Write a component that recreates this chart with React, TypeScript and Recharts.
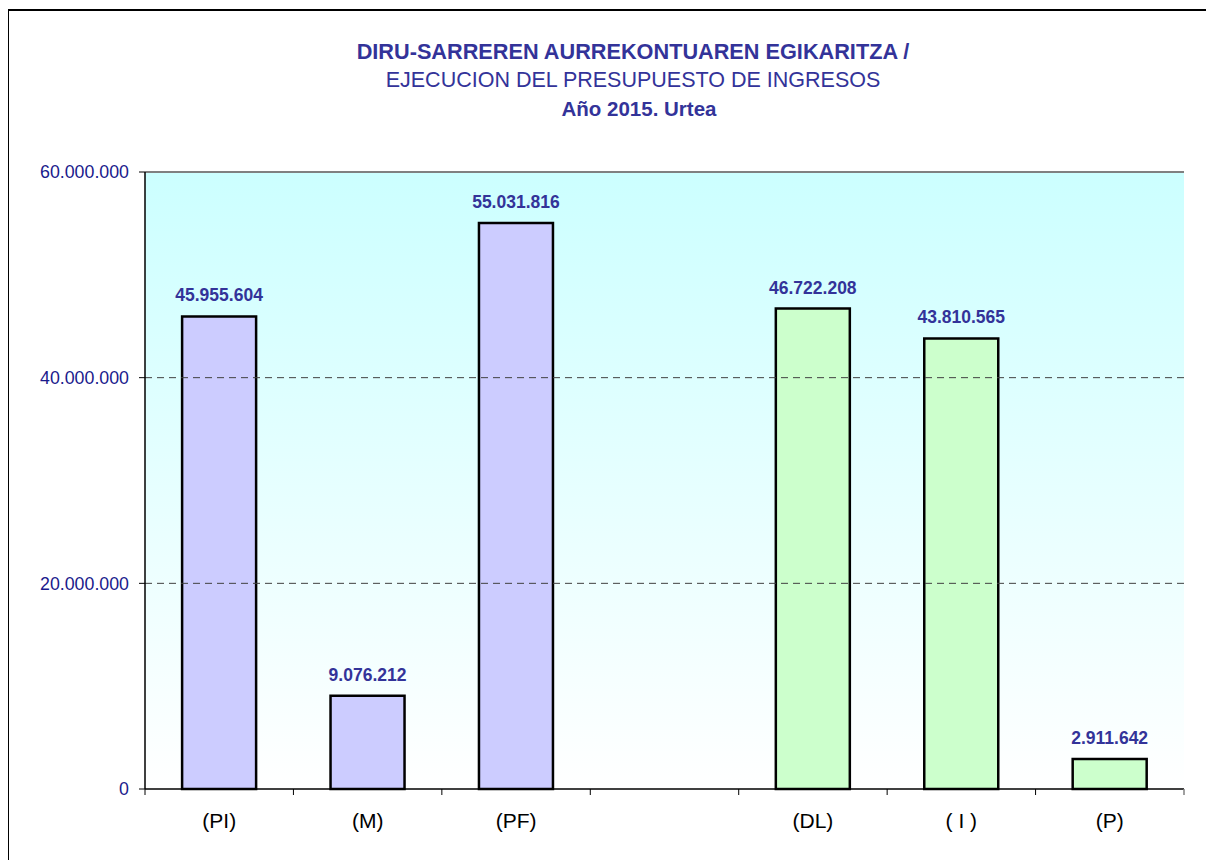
import {
  Bar,
  BarChart,
  CartesianGrid,
  Cell,
  LabelList,
  ReferenceLine,
  XAxis,
  YAxis,
} from 'recharts'

const categories = ['(PI)', '(M)', '(PF)', '', '(DL)', '( I )', '(P)']
const amounts: (number | null)[] = [45955604, 9076212, 55031816, null, 46722208, 43810565, 2911642]
const barColors = ['#CCCCFF', '#CCCCFF', '#CCCCFF', '#CCCCFF', '#CCFFCC', '#CCFFCC', '#CCFFCC']
const yTicks = [0, 20000000, 40000000, 60000000]
const gridValues = [20000000, 40000000]
const titleLines = [
  'DIRU-SARREREN AURREKONTUAREN EGIKARITZA /',
  'EJECUCION DEL PRESUPUESTO DE INGRESOS',
  'Año 2015. Urtea',
]

const FONT = '"Liberation Sans", Arial, sans-serif'
const BLUE = '#333399'

const fmt = (n: unknown) =>
  n == null || n === '' ? '' : String(n).replace(/\B(?=(\d{3})+(?!\d))/g, '.')

const rows = categories.map((name, i) => ({ name, value: amounts[i] }))

// Excel-style category axis: tick marks sit on the band boundaries, labels in the middle
function BandTick(props: any) {
  const { x, y, payload, index, visibleTicksCount } = props
  const half = payload?.offset ?? 74.2
  const last = index === (visibleTicksCount ?? categories.length) - 1
  return (
    <g>
      <line x1={x - half} y1={y} x2={x - half} y2={y + 6} stroke="#000" strokeWidth={1} />
      {last && <line x1={x + half} y1={y} x2={x + half} y2={y + 6} stroke="#808080" strokeWidth={1.5} />}
      <text x={x} y={y + 39} textAnchor="middle" fontFamily={FONT} fontSize={21} fill="#000">
        {payload.value}
      </text>
    </g>
  )
}

export default function App() {
  return (
    <div style={{ position: 'relative', width: 1206, height: 852, background: '#fff' }}>
      <div
        style={{
          position: 'absolute',
          left: -1,
          top: 1,
          width: 1206,
          height: 851,
          borderLeft: '2px solid #000',
          borderTop: '2px solid #000',
          boxSizing: 'border-box',
        }}
      />
      <svg
        width={1206}
        height={130}
        style={{ position: 'absolute', left: 0, top: 0, pointerEvents: 'none' }}
      >
        <text x={625} y={50.5} textAnchor="middle" fontFamily={FONT} fontSize={21.7} fontWeight="bold" fill={BLUE}>
          {titleLines[0]}
        </text>
        <text x={625} y={79} textAnchor="middle" fontFamily={FONT} fontSize={21.5} fill={BLUE}>
          {titleLines[1]}
        </text>
        <text x={631} y={107.5} textAnchor="middle" fontFamily={FONT} fontSize={20.5} fontWeight="bold" fill={BLUE}>
          {titleLines[2]}
        </text>
      </svg>
      <BarChart
        width={1206}
        height={852}
        data={rows}
        margin={{ top: 164, right: 30, bottom: 31, left: 0 }}
        barCategoryGap="25%"
      >
        <defs>
          <linearGradient id="plotBg" x1="0" y1="0" x2="0" y2="1">
            <stop offset="0%" stopColor="#CCFFFF" />
            <stop offset="100%" stopColor="#FFFFFF" />
          </linearGradient>
        </defs>
        <CartesianGrid horizontal={false} vertical={false} fill="url(#plotBg)" fillOpacity={1} />
        <XAxis
          dataKey="name"
          height={40}
          tickSize={0}
          tickMargin={0}
          tick={<BandTick />}
          axisLine={{ stroke: '#000', strokeWidth: 1.5 }}
          tickLine={false}
          interval={0}
        />
        <YAxis
          width={137}
          domain={[0, 60000000]}
          ticks={yTicks}
          tickFormatter={fmt}
          tickSize={6}
          tickMargin={10}
          tick={{ fill: '#1A1A8C', fontFamily: FONT, fontSize: 17.8 }}
          axisLine={{ stroke: '#000', strokeWidth: 1.5 }}
          tickLine={{ stroke: '#000' }}
        />
        <YAxis
          yAxisId="frame"
          orientation="right"
          width={0}
          domain={[0, 60000000]}
          tick={false}
          tickLine={false}
          axisLine={{ stroke: '#808080', strokeWidth: 2 }}
        />
        {gridValues.map((v) => (
          <ReferenceLine key={v} y={v} stroke="#404040" strokeDasharray="7 5" />
        ))}
        <ReferenceLine y={60000000} stroke="#808080" strokeWidth={2} />
        <Bar dataKey="value" stroke="#000" strokeWidth={2.5} isAnimationActive={false}>
          {rows.map((r, i) => (
            <Cell key={i} fill={barColors[i]} />
          ))}
          <LabelList
            dataKey="value"
            position="top"
            offset={15}
            formatter={fmt}
            fill={BLUE}
            fontFamily={FONT}
            fontSize={17.5}
            fontWeight="bold"
          />
        </Bar>
      </BarChart>
    </div>
  )
}
